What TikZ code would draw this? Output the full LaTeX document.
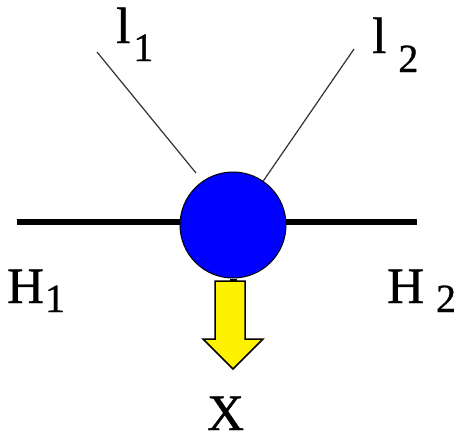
\documentclass[tikz,border=0pt]{standalone}
\usepackage{fontspec}
\setmainfont[FakeBold=0.8]{Liberation Serif}
\newcommand{\mainsz}{\fontsize{51}{51}\selectfont}
\newcommand{\subsz}{\fontsize{40}{40}\selectfont}
\newcommand{\lbl}[4]{#1\kern#3pt\raisebox{-#4pt}{\subsz #2}}
\begin{document}
\begin{tikzpicture}[x=1pt,y=-1pt,
  lab/.style={anchor=base west,inner sep=0pt,font=\mainsz},
  thickline/.style={line width=6pt},
  thinline/.style={line width=1.2pt,black!80},
  blob/.style={circle,draw=black,line width=1pt,fill=blue,minimum size=106pt,inner sep=0pt},
  arrowbody/.style={fill=yellow,draw=black,line width=1.5pt,line join=miter}]
\useasboundingbox (0,0) rectangle (460,437);
\coordinate (hl) at (17,222);
\coordinate (hr) at (417,222);
\coordinate (t1) at (97,52);
\coordinate (e1) at (196,173);
\coordinate (t2) at (354,49);
\draw[thickline] (hl) -- (233,222);
\draw[thickline] (233,222) -- (hr);
\draw[thinline] (t1) -- (e1);
\node[blob] (c) at (233,225) {};
\draw[thinline] (t2) -- (c);
\coordinate (at) at (233,281);
\draw[line width=7pt] (c.south) -- (at);
\draw[arrowbody] (215,281) -- (245,281) -- (245,339) -- (263,339) -- (233,369) -- (203,339) -- (215,339) -- cycle;
\node[lab] (l1) at (116,43) {\lbl{l}{1}{3}{18}};
\node[lab] (l2) at (372,53) {\lbl{l}{2}{12}{19}};
\node[lab] (h1) at (7,303) {\lbl{H}{1}{1}{9}};
\node[lab] (h2) at (387,303) {\lbl{H}{2}{12}{9}};
\node[lab] (x) at (207,430) {X};
\end{tikzpicture}
\end{document}
